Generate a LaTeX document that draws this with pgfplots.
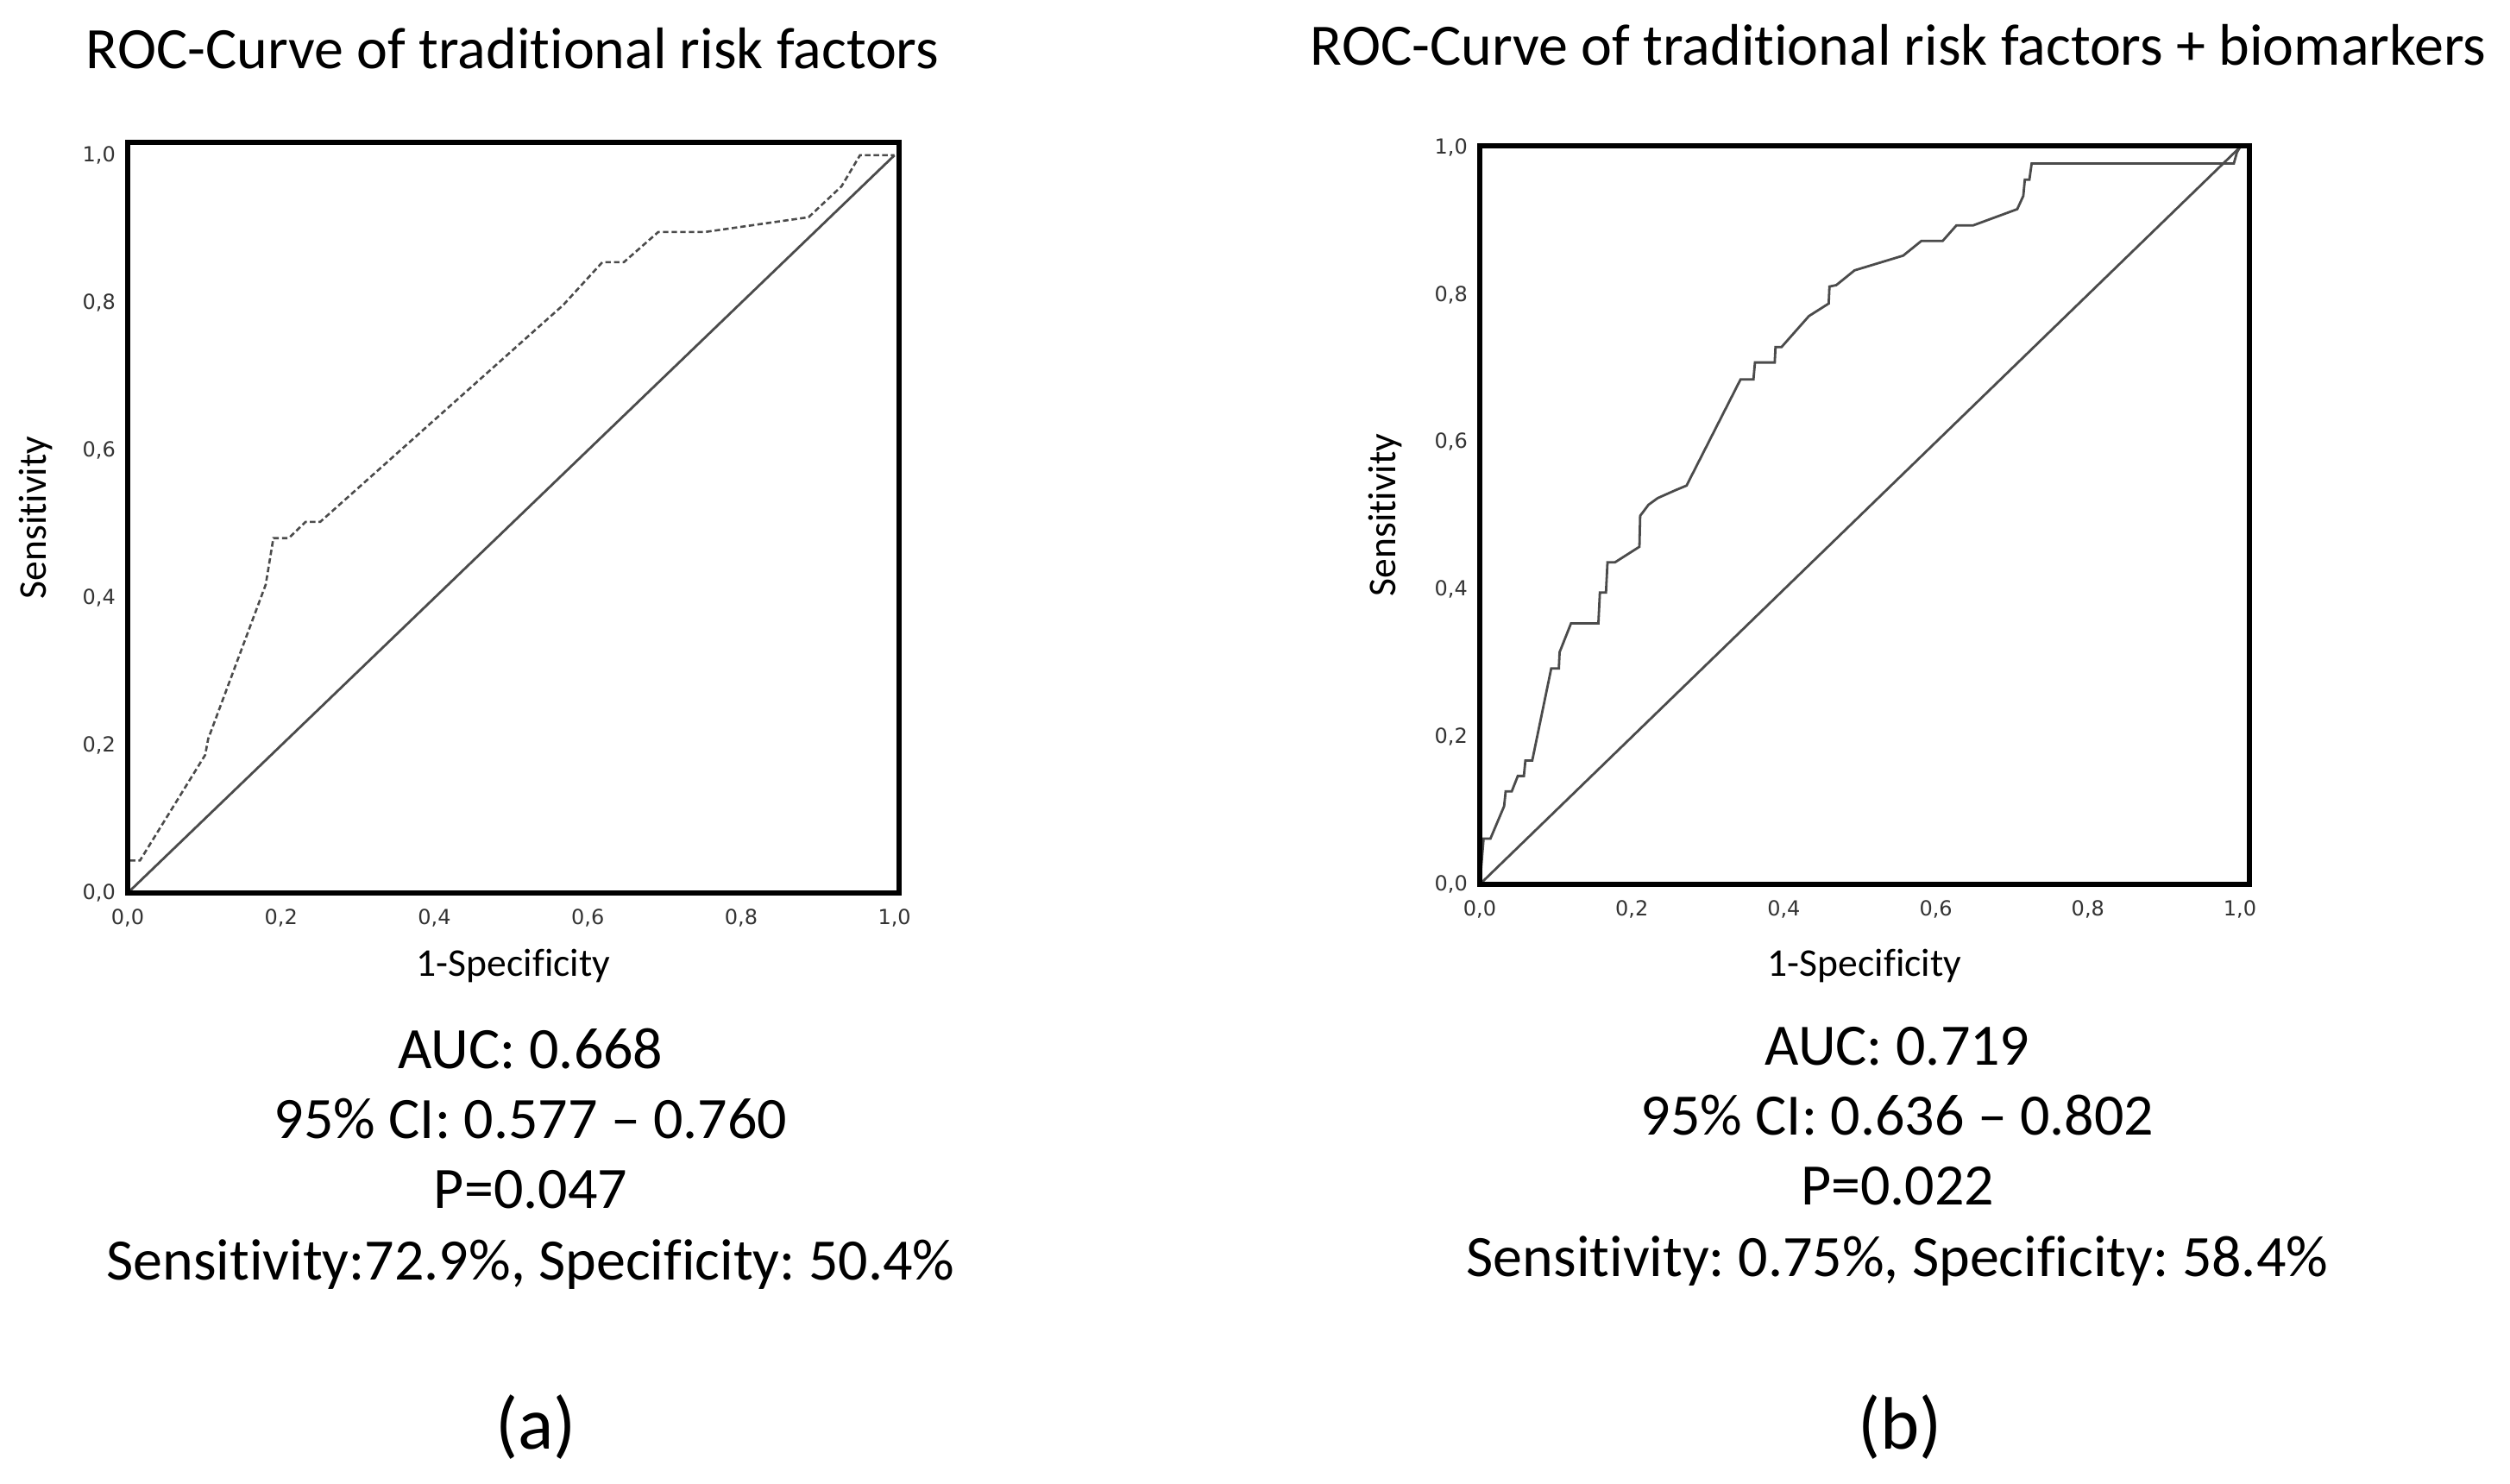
\documentclass[border=0pt]{standalone}
\usepackage{fontspec}
\setmainfont{Carlito}[Ligatures={NoCommon}]
\newfontfamily\tickfont{DejaVu Sans}
\usepackage{pgfplots}
\pgfplotsset{compat=1.18}
\frenchspacing

\definecolor{curve}{RGB}{75,75,75}

\pgfplotsset{
  roc/.style={
    scale only axis,
    axis on top,
    xmin=0, ymin=0,
    xtick={0,0.2,0.4,0.6,0.8,1},
    ytick={0,0.2,0.4,0.6,0.8,1},
    xticklabels={{0,0},{0,2},{0,4},{0,6},{0,8},{1,0}},
    yticklabels={{0,0},{0,2},{0,4},{0,6},{0,8},{1,0}},
    major tick length=0pt,
    tick style={draw=none},
    axis line style={line width=1.4pt, black},
    ticklabel style={font=\tickfont\fontsize{6}{7}\selectfont, text=black!80},
    xticklabel style={yshift=-1.2pt},
  },
}

\newcommand{\bigtxt}{\fontsize{17}{20}\selectfont}
\newcommand{\labtxt}{\fontsize{11.4}{13}\selectfont}
\newcommand{\paneltxt}{\fontsize{21.5}{25}\selectfont}

\begin{document}
\begin{tikzpicture}
\useasboundingbox (0,0) rectangle (727.25pt,430pt);

% (a) traditional risk factors
\begin{axis}[roc,
  at={(37pt,171.25pt)}, anchor=south west,
  width=223.5pt, height=217.5pt,
  xmax=1.006, ymax=1.0175]
\addplot[curve, line width=0.65pt, dash pattern=on 1.6pt off 0.9pt] coordinates {
  (0,0) (0,0.044) (0.016,0.044) (0.101,0.187) (0.105,0.209) (0.180,0.418)
  (0.190,0.481) (0.210,0.481) (0.232,0.503) (0.251,0.503) (0.568,0.797)
  (0.619,0.855) (0.647,0.855) (0.692,0.896) (0.753,0.896) (0.888,0.916)
  (0.931,0.958) (0.955,1.0) (1.0,1.0)
};
\addplot[curve, line width=0.7pt] coordinates {(0,0) (1,1)};
\end{axis}

% (b) traditional risk factors + biomarkers
\begin{axis}[roc,
  at={(428.75pt,173.75pt)}, anchor=south west,
  width=223pt, height=214pt,
  xmax=1.0125, ymax=1.002]
\addplot[curve, line width=0.7pt] coordinates {
  (0,0) (0.005,0.062) (0.014,0.062) (0.032,0.106) (0.034,0.126) (0.042,0.126)
  (0.050,0.147) (0.058,0.147) (0.060,0.168) (0.069,0.168) (0.094,0.293)
  (0.104,0.293) (0.105,0.315) (0.120,0.354) (0.156,0.354) (0.158,0.396)
  (0.166,0.396) (0.168,0.437) (0.178,0.437) (0.210,0.458) (0.211,0.500)
  (0.222,0.515) (0.234,0.524) (0.258,0.535) (0.272,0.541) (0.343,0.685)
  (0.360,0.685) (0.362,0.708) (0.388,0.708) (0.389,0.729) (0.397,0.729)
  (0.433,0.771) (0.459,0.788) (0.460,0.811) (0.469,0.813) (0.493,0.833)
  (0.557,0.853) (0.581,0.873) (0.609,0.873) (0.627,0.894) (0.649,0.894)
  (0.707,0.916) (0.715,0.934) (0.717,0.956) (0.723,0.956) (0.726,0.978)
  (0.992,0.978) (0.996,0.993) (1.0,1.0)
};
\addplot[curve, line width=0.7pt] coordinates {(0,0) (1,1)};
\end{axis}

% titles
\node[anchor=base, inner sep=0] at (148.5pt,410pt) {\bigtxt ROC-Curve of traditional risk factors};
\node[anchor=base, inner sep=0] at (550pt,411pt) {\bigtxt ROC-Curve of traditional risk factors + biomarkers};

% axis labels
\node[rotate=90, inner sep=0] at (10.25pt,280pt) {\labtxt Sensitivity};
\node[rotate=90, inner sep=0] at (401.25pt,280.75pt) {\labtxt Sensitivity};
\node[anchor=base, inner sep=0] at (148.75pt,147pt) {\labtxt 1-Specificity};
\node[anchor=base, inner sep=0] at (540.25pt,147pt) {\labtxt 1-Specificity};

% statistics (a)
\node[anchor=base, inner sep=0] at (153.75pt,120.25pt) {\bigtxt AUC: 0.668};
\node[anchor=base, inner sep=0] at (153.75pt,100pt) {\bigtxt 95\% CI: 0.577 -- 0.760};
\node[anchor=base, inner sep=0] at (153.75pt,79.75pt) {\bigtxt P=0.047};
\node[anchor=base, inner sep=0] at (153.75pt,59pt) {\bigtxt Sensitivity:72.9\%, Specificity: 50.4\%};
\node[anchor=base, inner sep=0] at (155.25pt,10pt) {\paneltxt (a)};

% statistics (b)
\node[anchor=base, inner sep=0] at (549.75pt,121.25pt) {\bigtxt AUC: 0.719};
\node[anchor=base, inner sep=0] at (549.75pt,101pt) {\bigtxt 95\% CI: 0.636 -- 0.802};
\node[anchor=base, inner sep=0] at (549.75pt,80.75pt) {\bigtxt P=0.022};
\node[anchor=base, inner sep=0] at (549.75pt,60pt) {\bigtxt Sensitivity: 0.75\%, Specificity: 58.4\%};
\node[anchor=base, inner sep=0] at (550.5pt,10pt) {\paneltxt (b)};
\end{tikzpicture}
\end{document}
